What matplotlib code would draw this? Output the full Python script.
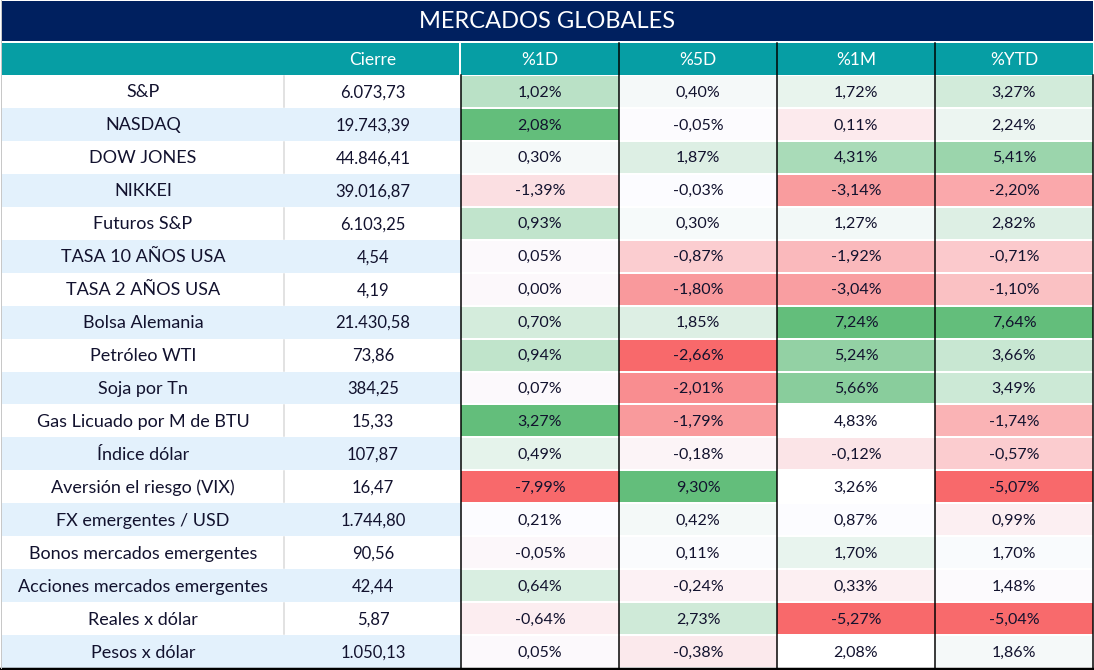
"""Tabla MERCADOS GLOBALES con escala de color por columna (estilo Excel)."""

import matplotlib.pyplot as plt
import numpy as np
from matplotlib.patches import Rectangle

plt.rcParams["font.family"] = ["Lato", "DejaVu Sans"]

TITLE = "MERCADOS GLOBALES"
HEADERS = ["Cierre", "%1D", "%5D", "%1M", "%YTD"]

names = [
    "S&P", "NASDAQ", "DOW JONES", "NIKKEI", "Futuros S&P",
    "TASA 10 AÑOS USA", "TASA 2 AÑOS USA", "Bolsa Alemania", "Petróleo WTI",
    "Soja por Tn", "Gas Licuado por M de BTU", "Índice dólar",
    "Aversión el riesgo (VIX)", "FX emergentes / USD",
    "Bonos mercados emergentes", "Acciones mercados emergentes",
    "Reales x dólar", "Pesos x dólar",
]
cierre = [
    "6.073,73", "19.743,39", "44.846,41", "39.016,87", "6.103,25", "4,54",
    "4,19", "21.430,58", "73,86", "384,25", "15,33", "107,87", "16,47",
    "1.744,80", "90,56", "42,44", "5,87", "1.050,13",
]
pct_1d = [1.02, 2.08, 0.30, -1.39, 0.93, 0.05, 0.00, 0.70, 0.94, 0.07,
          3.27, 0.49, -7.99, 0.21, -0.05, 0.64, -0.64, 0.05]
pct_5d = [0.40, -0.05, 1.87, -0.03, 0.30, -0.87, -1.80, 1.85, -2.66, -2.01,
          -1.79, -0.18, 9.30, 0.42, 0.11, -0.24, 2.73, -0.38]
pct_1m = [1.72, 0.11, 4.31, -3.14, 1.27, -1.92, -3.04, 7.24, 5.24, 5.66,
          4.83, -0.12, 3.26, 0.87, 1.70, 0.33, -5.27, 2.08]
pct_ytd = [3.27, 2.24, 5.41, -2.20, 2.82, -0.71, -1.10, 7.64, 3.66, 3.49,
           -1.74, -0.57, -5.07, 0.99, 1.70, 1.48, -5.04, 1.86]
# %1D: Gas Licuado coloreado pero fuera del rango de la escala
fuera_rango_1d = ["Gas Licuado por M de BTU"]
# %1M: celdas que quedaron sin formato condicional (fondo blanco)
sin_formato_1m = ["Gas Licuado por M de BTU", "Aversión el riesgo (VIX)",
                  "Pesos x dólar"]

# colores
NAVY = "#00205F"
TEAL = "#069EA4"
ROW_ALT = "#E3F1FC"
TEXT = "#12122E"
LOW = np.array([248, 105, 107]) / 255
MID = np.array([252, 252, 255]) / 255
HIGH = np.array([99, 190, 123]) / 255


def color_scale(values, exclude=(), blank=()):
    """Escala de 3 colores: mínimo, percentil 50, máximo."""
    vals = np.array(values, dtype=float)
    in_range = np.array([i not in exclude and i not in blank
                         for i in range(len(vals))])
    ref = vals[in_range]
    lo, mid, hi = ref.min(), np.percentile(ref, 50), ref.max()
    out = []
    for i, v in enumerate(vals):
        v = min(max(v, lo), hi)
        if i in blank:
            out.append((1, 1, 1))
        elif v <= mid:
            t = (mid - v) / (mid - lo) if mid > lo else 0
            out.append(tuple(MID + (LOW - MID) * t))
        else:
            t = (v - mid) / (hi - mid) if hi > mid else 0
            out.append(tuple(MID + (HIGH - MID) * t))
    return out


def fmt(v):
    return f"{v:.2f}".replace(".", ",") + "%"


def main():
    W, H = 1094, 670
    fig = plt.figure(figsize=(W / 100, H / 100), dpi=100)
    ax = fig.add_axes([0, 0, 1, 1])
    ax.set_xlim(0, W)
    ax.set_ylim(H, 0)
    ax.axis("off")

    px = 0.72  # 1 pixel en puntos
    col_x = [1, 285, 461, 619, 777, 935, 1093]
    title_top, title_bot = 1, 41
    head_top, head_bot = 43, 74.5
    body_top, body_bot = 75, 668
    n = len(names)
    row_h = (body_bot - body_top) / n

    # título
    ax.add_patch(Rectangle((col_x[0], title_top), col_x[-1] - col_x[0],
                           title_bot - title_top, color=NAVY, lw=0))
    ax.text(W / 2, (title_top + title_bot) / 2 + 1, TITLE, color="white",
            fontsize=17, ha="center", va="center")

    # encabezado
    ax.add_patch(Rectangle((col_x[0], head_top), col_x[2] - 2 - col_x[0],
                           head_bot - head_top, color=TEAL, lw=0))
    ax.add_patch(Rectangle((col_x[2], head_top), col_x[-1] - col_x[2],
                           head_bot - head_top, color=TEAL, lw=0))
    for j, h in enumerate(HEADERS):
        cx = (col_x[j + 1] + col_x[j + 2]) / 2
        ax.text(cx, (head_top + head_bot) / 2 + 1, h, color="white",
                fontsize=12.5, ha="center", va="center")

    # colores de las columnas porcentuales
    excl_1d = [names.index(s) for s in fuera_rango_1d]
    blank_1m = [names.index(s) for s in sin_formato_1m]
    fills = [color_scale(pct_1d, exclude=excl_1d), color_scale(pct_5d),
             color_scale(pct_1m, blank=blank_1m), color_scale(pct_ytd)]
    pcts = [pct_1d, pct_5d, pct_1m, pct_ytd]

    for i in range(n):
        y0 = body_top + i * row_h
        yc = y0 + row_h / 2 + 1
        bg = "white" if i % 2 == 0 else ROW_ALT
        ax.add_patch(Rectangle((col_x[0], y0), col_x[2] - col_x[0], row_h,
                               color=bg, lw=0))
        if i % 2 == 0:
            ax.plot([col_x[1] - 1, col_x[1] - 1], [y0 + 1, y0 + row_h - 1],
                    color="#D9D9D9", lw=1.5 * px)
        ax.text((col_x[0] + col_x[1]) / 2, yc, names[i], color=TEXT,
                fontsize=13, ha="center", va="center")
        ax.text((col_x[1] + col_x[2]) / 2, yc, cierre[i], color=TEXT,
                fontsize=12, ha="center", va="center")
        for j in range(4):
            x0, x1 = col_x[j + 2], col_x[j + 3]
            ax.add_patch(Rectangle((x0, y0 + 1), x1 - x0, row_h - 2,
                                   color=fills[j][i], lw=0))
            ax.text((x0 + x1) / 2, yc, fmt(pcts[j][i]), color=TEXT,
                    fontsize=11.5, ha="center", va="center")

    # líneas negras de columnas
    for j, x in enumerate(col_x[2:]):
        top = body_top if j in (0, 4) else head_top
        ax.plot([x, x], [top, body_bot], color="black", lw=1.5 * px)
    ax.plot([0, W], [body_bot + 0.5, body_bot + 0.5], color="black",
            lw=2.5 * px)
    ax.plot([0.5, 0.5], [0, body_bot], color="#C8C8C8", lw=1 * px)

    fig.savefig("out.png", dpi=100, facecolor="white")
    plt.close(fig)


if __name__ == "__main__":
    main()
